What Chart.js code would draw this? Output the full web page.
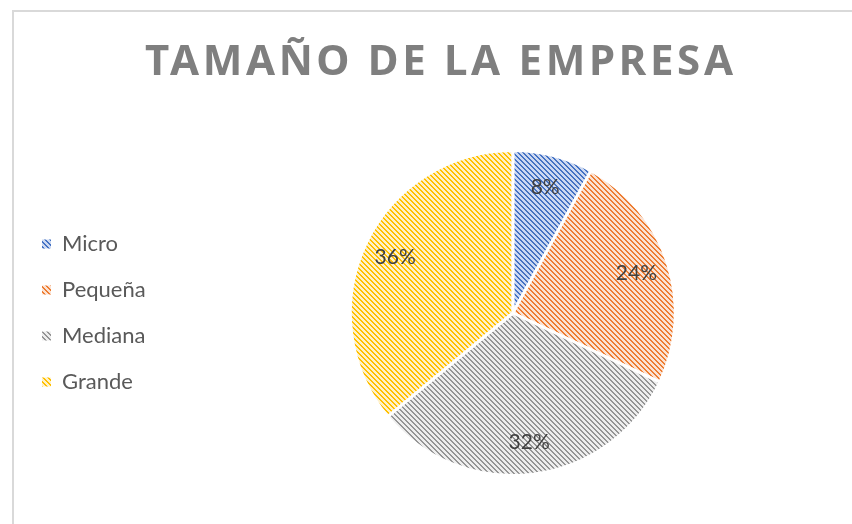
<!DOCTYPE html>
<html>
<head>
<meta charset="utf-8">
<script src="https://cdn.jsdelivr.net/npm/chart.js@4.4.0/dist/chart.umd.min.js"></script>
<style>
html,body{margin:0;padding:0;background:#fff;overflow:hidden;}
</style>
</head>
<body>
<canvas id="tamano" width="900" height="524"></canvas>
<script>
/* DATOS */
const titulo = 'TAMAÑO DE LA EMPRESA';
const categorias = ['Micro', 'Pequeña', 'Mediana', 'Grande'];
const porcentajes = [8, 24, 32, 36];
const colores = ['#4472c4', '#ed7d31', '#959595', '#ffc000'];
const fondos = ['#cdd9f1', '#fbe2d3', '#eeeeee', '#fff1c9'];

/* RAYADO DIAGONAL */
function rayado(color, fondo){
  const n = 5;
  const c = document.createElement('canvas');
  c.width = n; c.height = n;
  const g = c.getContext('2d');
  g.fillStyle = fondo;
  g.fillRect(0, 0, n, n);
  g.fillStyle = color;
  for (let y = 0; y < n; y++) {
    for (let x = 0; x < n; x++) {
      if (((x - y) % n + n) % n < 2) g.fillRect(x, y, 1, 1);
    }
  }
  return g.createPattern(c, 'repeat');
}

const rellenos = colores.map((c, i) => rayado(c, fondos[i]));

/* MARCO */
const marco = {
  id: 'marco',
  beforeDraw(chart){
    const ctx = chart.ctx;
    ctx.save();
    ctx.strokeStyle = '#d9d9d9';
    ctx.lineWidth = 2;
    ctx.strokeRect(13, 11, 1000, 1000);
    ctx.restore();
  }
};

/* TITULO CON ESPACIADO */
const tituloGrande = {
  id: 'tituloGrande',
  afterDraw(chart){
    const ctx = chart.ctx;
    ctx.save();
    ctx.font = 'bold 42px "Noto Sans"';
    ctx.fillStyle = '#7f7f7f';
    ctx.textBaseline = 'alphabetic';
    ctx.textAlign = 'left';
    const ancho = 588;
    const base = ctx.measureText(titulo).width;
    ctx.letterSpacing = ((ancho - base) / (titulo.length - 1)) + 'px';
    ctx.fillText(titulo, 439 - ancho / 2, 75);
    ctx.restore();
  }
};

/* PORCENTAJES */
const etiquetas = {
  id: 'etiquetas',
  afterDatasetsDraw(chart){
    const ctx = chart.ctx;
    const meta = chart.getDatasetMeta(0);
    ctx.save();
    ctx.font = '21px Lato';
    ctx.fillStyle = '#404040';
    ctx.textAlign = 'center';
    ctx.textBaseline = 'middle';
    meta.data.forEach((arc, i) => {
      const p = arc.getProps(['x', 'y', 'startAngle', 'endAngle', 'outerRadius'], true);
      const a = (p.startAngle + p.endAngle) / 2;
      const r = p.outerRadius * 0.8;
      ctx.fillText(porcentajes[i] + '%', p.x + Math.cos(a) * r, p.y + Math.sin(a) * r);
    });
    ctx.restore();
  }
};

const ctx1 = document.getElementById('tamano');

new Chart(ctx1, {
  type: 'pie',
  data: {
    labels: categorias,
    datasets: [{
      data: porcentajes,
      backgroundColor: rellenos,
      borderColor: '#ffffff',
      borderWidth: 3
    }]
  },
  options: {
    responsive: false,
    animation: false,
    events: [],
    layout: { padding: { top: 149, bottom: 47, left: 18, right: 30 } },
    plugins: {
      title: { display: false },
      tooltip: { enabled: false },
      legend: {
        position: 'left',
        labels: {
          boxWidth: 9,
          boxHeight: 9,
          padding: 24,
          color: '#595959',
          font: { family: 'Lato', size: 22 },
          generateLabels(chart){
            const items = Chart.controllers.pie.overrides.plugins.legend.labels.generateLabels(chart);
            items.forEach(it => { it.lineWidth = 0; });
            return items;
          }
        }
      }
    }
  },
  plugins: [marco, tituloGrande, etiquetas]
});
</script>
</body>
</html>
